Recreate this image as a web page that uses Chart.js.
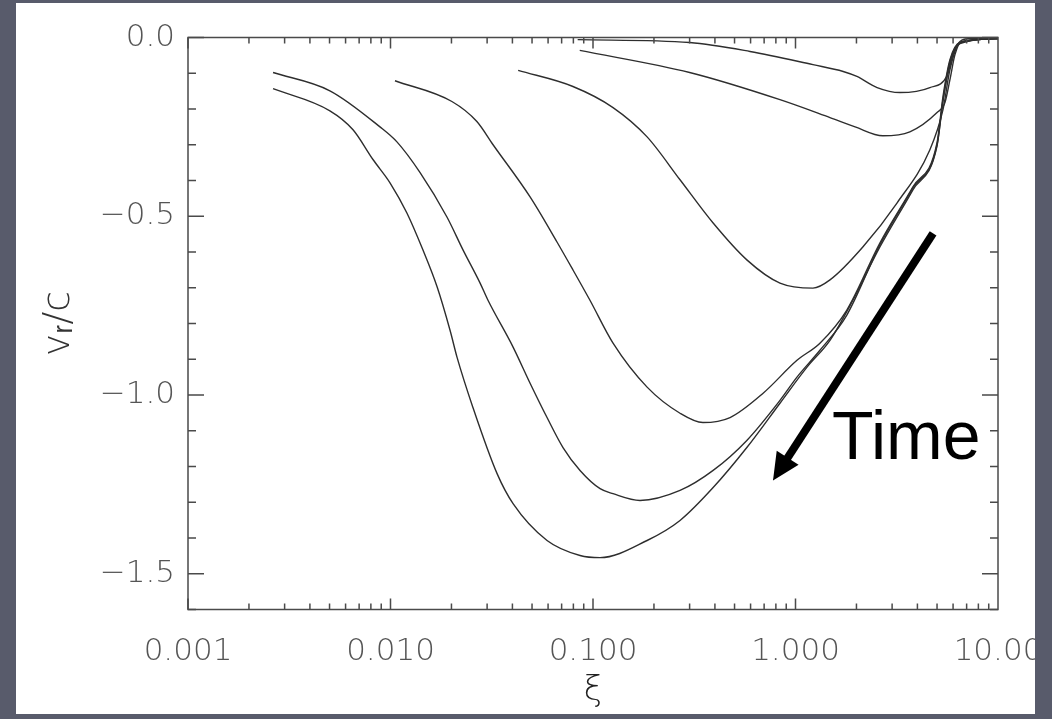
<!DOCTYPE html>
<html>
<head>
<meta charset="utf-8">
<script src="https://cdn.jsdelivr.net/npm/chart.js@4.4.1/dist/chart.umd.min.js"></script>
<style>
  html, body { margin: 0; padding: 0; }
  body { width: 1052px; height: 719px; background: #585b6b; position: relative; overflow: hidden; }
  #panel { position: absolute; left: 16px; top: 3px; width: 1019px; height: 711px; background: #fff; overflow: hidden; }
</style>
</head>
<body>
<div id="panel"><canvas id="chart" width="1019" height="711"></canvas></div>
<script>
// tick labels
const xTicks = [0.001, 0.01, 0.1, 1, 10];
const xLabels = ["0.001", "0.010", "0.100", "1.000", "10.00"];
const yTicks = [0, -0.5, -1.0, -1.5];

// velocity profiles, earliest first (xi, v_r/c)
const xi1 = [0.084, 0.30, 0.596, 1.22, 1.72, 2.01, 2.53, 3.28, 4.61, 5.60, 6.0, 6.49, 7.28, 10];
const v1 = [-0.006, -0.014, -0.039, -0.076, -0.095, -0.109, -0.140, -0.154, -0.140, -0.107, -0.048, -0.011, -0.003, -0.003];

const xi2 = [0.086, 0.30, 0.838, 1.48, 1.97, 2.70, 3.67, 5.00, 5.47, 5.79, 6.13, 6.64, 10];
const v2 = [-0.036, -0.098, -0.174, -0.224, -0.250, -0.275, -0.264, -0.210, -0.182, -0.118, -0.048, -0.011, -0.003];

const xi3 = [0.0427, 0.0796, 0.1256, 0.185, 0.269, 0.392, 0.575, 0.838, 1.22, 1.48, 2.15, 3.17, 4.61, 5.35, 5.79, 6.49, 10];
const v3 = [-0.092, -0.137, -0.196, -0.278, -0.398, -0.519, -0.622, -0.687, -0.701, -0.678, -0.586, -0.463, -0.314, -0.202, -0.090, -0.014, -0.003];

const xi4 = [0.01052, 0.0201, 0.0267, 0.0321, 0.0489, 0.0664, 0.0796, 0.0966, 0.1256, 0.185, 0.269, 0.349, 0.475, 0.692, 1.017, 1.32, 1.79, 2.61, 3.80, 5.00, 5.35, 5.79, 6.49, 10];
const v4 = [-0.121, -0.179, -0.235, -0.300, -0.446, -0.572, -0.650, -0.735, -0.855, -0.978, -1.051, -1.077, -1.063, -0.995, -0.903, -0.855, -0.763, -0.575, -0.418, -0.294, -0.165, -0.062, -0.014, -0.003];

const xi5 = [0.00263, 0.00502, 0.00887, 0.01076, 0.0140, 0.0190, 0.0228, 0.0277, 0.0303, 0.0403, 0.0489, 0.0593, 0.0711, 0.0863, 0.1084, 0.1256, 0.1706, 0.269, 0.392, 0.575, 0.838, 1.017, 1.32, 1.79, 2.61, 3.80, 5.00, 5.35, 5.79, 6.49, 10];
const v5 = [-0.098, -0.149, -0.250, -0.292, -0.378, -0.502, -0.594, -0.687, -0.735, -0.866, -0.967, -1.063, -1.147, -1.211, -1.262, -1.276, -1.295, -1.267, -1.211, -1.127, -1.015, -0.950, -0.875, -0.777, -0.580, -0.421, -0.300, -0.174, -0.067, -0.015, -0.003];

const xi6 = [0.00263, 0.00502, 0.00653, 0.00821, 0.00996, 0.01205, 0.01445, 0.0170, 0.01968, 0.0213, 0.0255, 0.0336, 0.0403, 0.0593, 0.0863, 0.1084, 0.185, 0.269, 0.392, 0.575, 0.838, 1.14, 1.48, 1.92, 2.61, 3.80, 5.00, 5.35, 5.79, 6.49, 10];
const v6 = [-0.143, -0.205, -0.258, -0.342, -0.407, -0.491, -0.594, -0.698, -0.819, -0.894, -1.034, -1.220, -1.304, -1.407, -1.449, -1.455, -1.407, -1.351, -1.259, -1.147, -1.023, -0.922, -0.847, -0.735, -0.586, -0.426, -0.303, -0.179, -0.073, -0.017, -0.003];

const curves = [[xi1, v1], [xi2, v2], [xi3, v3], [xi4, v4], [xi5, v5], [xi6, v6]];

function toPoints(xs, ys) {
  return xs.map((x, i) => ({ x: x, y: ys[i] }));
}

const labelFont = { family: '"DejaVu Sans ExtraLight", "DejaVu Sans", sans-serif', size: 31, weight: 200 };

// box with inward ticks on all four sides (IDL style)
const frame = {
  id: "frame",
  afterDatasetsDraw(chart) {
    const { ctx, chartArea: a, scales: { x, y } } = chart;
    ctx.save();
    ctx.strokeStyle = "#4a4a4a";
    ctx.lineWidth = 1.5;
    ctx.strokeRect(a.left, a.top, a.right - a.left, a.bottom - a.top);
    ctx.beginPath();
    for (let e = -3; e <= 0; e++) {
      for (let m = 1; m < 10; m++) {
        const px = x.getPixelForValue(m * Math.pow(10, e));
        const len = m === 1 ? 11 : 6;
        ctx.moveTo(px, a.bottom); ctx.lineTo(px, a.bottom - len);
        ctx.moveTo(px, a.top); ctx.lineTo(px, a.top + len);
      }
    }
    for (let k = 0; k <= 16; k++) {
      const py = y.getPixelForValue(-k / 10);
      const len = k % 5 === 0 ? 16 : 8;
      ctx.moveTo(a.left, py); ctx.lineTo(a.left + len, py);
      ctx.moveTo(a.right, py); ctx.lineTo(a.right - len, py);
    }
    ctx.stroke();
    ctx.restore();
  }
};

// "Time" arrow annotation
const timeNote = {
  id: "timeNote",
  afterDraw(chart) {
    const { ctx, scales: { x, y } } = chart;
    const x0 = x.getPixelForValue(4.78), y0 = y.getPixelForValue(-0.548);
    const x1 = x.getPixelForValue(0.774), y1 = y.getPixelForValue(-1.239);
    const ang = Math.atan2(y1 - y0, x1 - x0);
    const head = 27, half = 13;
    const bx = x1 - head * Math.cos(ang), by = y1 - head * Math.sin(ang);
    ctx.save();
    ctx.strokeStyle = "#000";
    ctx.fillStyle = "#000";
    ctx.lineWidth = 8;
    ctx.beginPath();
    ctx.moveTo(x0, y0);
    ctx.lineTo(bx + 4 * Math.cos(ang), by + 4 * Math.sin(ang));
    ctx.stroke();
    ctx.beginPath();
    ctx.moveTo(x1, y1);
    ctx.lineTo(bx + half * Math.sin(ang), by - half * Math.cos(ang));
    ctx.lineTo(bx - half * Math.sin(ang), by + half * Math.cos(ang));
    ctx.closePath();
    ctx.fill();
    ctx.font = '68px "Liberation Sans", Arial, sans-serif';
    ctx.textBaseline = "alphabetic";
    ctx.textAlign = "left";
    ctx.fillText("Time", x.getPixelForValue(1.514), y.getPixelForValue(-1.178));
    ctx.restore();
  }
};

new Chart(document.getElementById("chart"), {
  type: "scatter",
  data: {
    datasets: curves.map((c, i) => ({
      label: "t" + (i + 1),
      data: toPoints(c[0], c[1]),
      showLine: true,
      borderColor: "#2e2e2e",
      borderWidth: 1.4,
      pointRadius: 0,
      cubicInterpolationMode: "monotone",
      fill: false
    }))
  },
  options: {
    responsive: false,
    animation: false,
    layout: { padding: { left: 0, top: 34.5, right: 37, bottom: 0 } },
    plugins: { legend: { display: false }, tooltip: { enabled: false } },
    scales: {
      x: {
        type: "logarithmic",
        min: 0.001,
        max: 10,
        grid: { display: false, drawTicks: false },
        border: { display: false },
        afterBuildTicks: (s) => { s.ticks = xTicks.map(v => ({ value: v })); },
        afterFit: (s) => { s.height = 104.5; s.paddingLeft = 0; s.paddingRight = 0; },
        ticks: {
          autoSkip: false,
          maxRotation: 0,
          padding: 24,
          color: "#555",
          font: labelFont,
          callback: (v, i) => xLabels[i]
        },
        title: {
          display: true,
          text: "ξ",
          color: "#222",
          font: { family: '"DejaVu Sans ExtraLight", "DejaVu Sans", sans-serif', size: 34, weight: 200 },
          padding: { top: 0, bottom: 2 }
        }
      },
      y: {
        type: "linear",
        min: -1.6,
        max: 0,
        grid: { display: false, drawTicks: false },
        border: { display: false },
        afterBuildTicks: (s) => { s.ticks = yTicks.map(v => ({ value: v })); },
        afterFit: (s) => { s.width = 172; s.paddingTop = 0; s.paddingBottom = 0; },
        ticks: {
          padding: 13,
          color: "#555",
          font: labelFont,
          callback: (v) => v === 0 ? "0.0" : "\u2212" + Math.abs(v).toFixed(1)
        },
        title: {
          display: true,
          text: "vᵣ/c",
          color: "#333",
          font: { family: '"DejaVu Sans ExtraLight", "DejaVu Sans", sans-serif', size: 38, weight: 200 },
          padding: { top: 20, bottom: 0 }
        }
      }
    }
  },
  plugins: [frame, timeNote]
});
</script>
</body>
</html>
